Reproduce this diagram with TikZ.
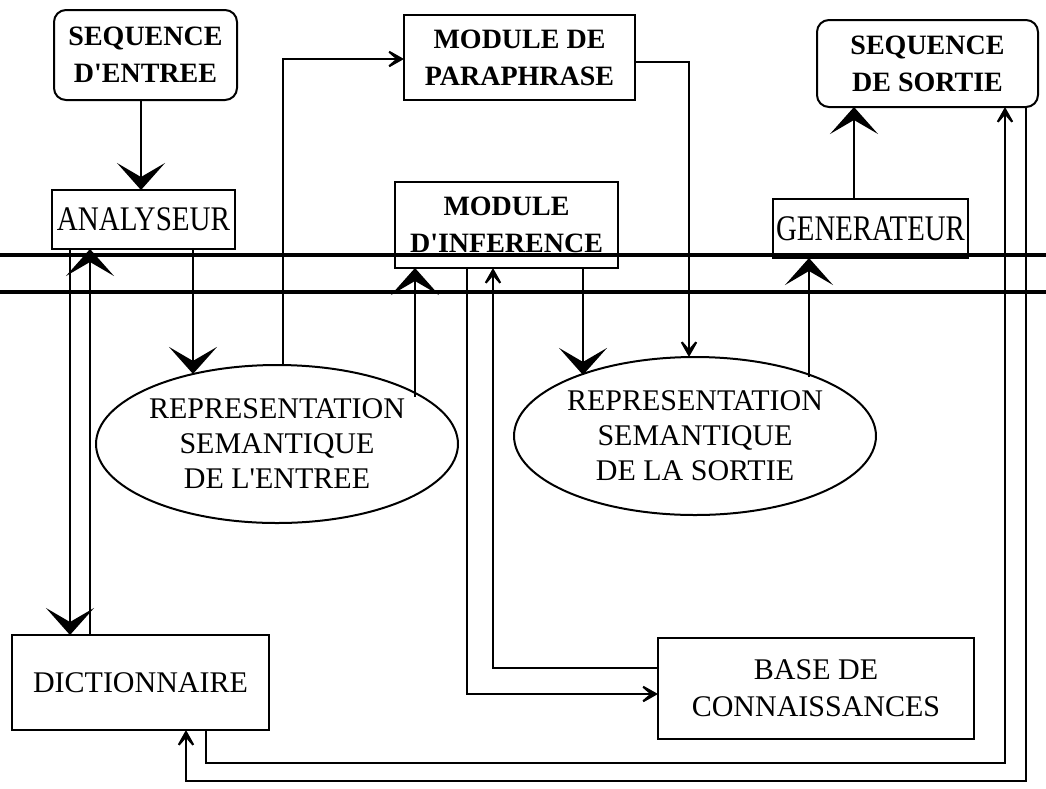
\documentclass[tikz,border=0pt]{standalone}
\usepackage{fontspec}
\setmainfont{Liberation Serif}
\usepackage{graphicx}
\usetikzlibrary{arrows.meta,shapes.geometric}
\tikzset{
  box/.style={draw, line width=2pt, inner sep=0pt, outer sep=0pt, align=center, font=\fontsize{30}{37}\selectfont},
  bbox/.style={box, font=\fontsize{28}{37}\selectfont\bfseries},
  rbox/.style={bbox, rounded corners=12pt},
  ell/.style={ellipse, draw, line width=2pt, inner sep=0pt, outer sep=0pt, align=center, font=\fontsize{30}{35}\selectfont},
  conn/.style={line width=2pt},
  big/.style={conn, -{Stealth[length=27pt, width=48pt, inset=14pt]}},
  small/.style={conn, -{Stealth[length=23pt, width=26pt, inset=15pt]}},
  sep/.style={line width=3.5pt},
}
\begin{document}
\begin{tikzpicture}[x=1pt, y=-1pt]
\useasboundingbox (0,0) rectangle (1046,788);

% nodes
\node[rbox, minimum width=183pt, minimum height=90pt] (seqE) at (145.5,55) {SEQUENCE\\D\textquotesingle ENTREE};
\node[box, minimum width=183pt, minimum height=59pt] (ana) at (143.5,219.5) {\scalebox{0.97}[1.15]{ANALYSEUR}};
\node[bbox, minimum width=231pt, minimum height=85pt] (para) at (519.5,57.5) {MODULE DE\\PARAPHRASE};
\node[bbox, minimum width=223pt, minimum height=86pt] (inf) at (506.5,225) {MODULE\\D\textquotesingle INFERENCE};
\node[rbox, minimum width=221pt, minimum height=87pt] (seqS) at (927.5,63.5) {SEQUENCE\\DE SORTIE};
\node[box, minimum width=195pt, minimum height=59pt] (gen) at (870.5,228.5) {\scalebox{0.96}[1.2]{GENERATEUR}};
\node[ell, minimum width=340pt, minimum height=158pt] (ell1) at (277,444) {REPRESENTATION\\SEMANTIQUE\\DE L\textquotesingle ENTREE};
\node[ell, minimum width=336pt, minimum height=158pt] (ell2) at (695,436) {REPRESENTATION\\SEMANTIQUE\\DE LA SORTIE};
\node[box, minimum width=257pt, minimum height=95pt] (dict) at (140.5,682.5) {DICTIONNAIRE};
\node[box, minimum width=316pt, minimum height=101pt] (base) at (816,688.5) {BASE DE\\CONNAISSANCES};

% connectors
\draw[big] (141,0 |- seqE.south) -- (141,0 |- ana.north);
\draw[big] (193,0 |- ana.south) -- (193,0 |- ell1.140.7);
\draw[big] (70,0 |- ana.south) -- (70,0 |- dict.north);
\draw[big] (90,0 |- dict.north) -- (90,0 |- ana.south);
\draw[big] (415,0 |- ell1.18.5) -- (415,0 |- inf.south);
\draw[big] (583,0 |- inf.south) -- (583,0 |- ell2.152.3);
\draw[big] (809,0 |- ell2.26.97) -- (809,0 |- gen.south);
\draw[big] (854,0 |- gen.north) -- (854,0 |- seqS.south);

\draw[small] (283,0 |- ell1.north) |- (para.west |- 0,59);
\draw[small] (para.east |- 0,62) -| (689,0 |- ell2.north);
\draw[small] (467,0 |- inf.south) |- (base.west |- 0,694);
\draw[small] (base.west |- 0,668) -| (493,0 |- inf.south);
\draw[small] (206,0 |- dict.south) |- (1005,763) -- (1005,0 |- seqS.south);
\draw[small] (1026,0 |- seqS.south) |- (186,781) -- (186,0 |- dict.south);

% separator lines
\draw[sep] (0,255) -- (1046,255);
\draw[sep] (0,292) -- (1046,292);
\end{tikzpicture}
\end{document}
